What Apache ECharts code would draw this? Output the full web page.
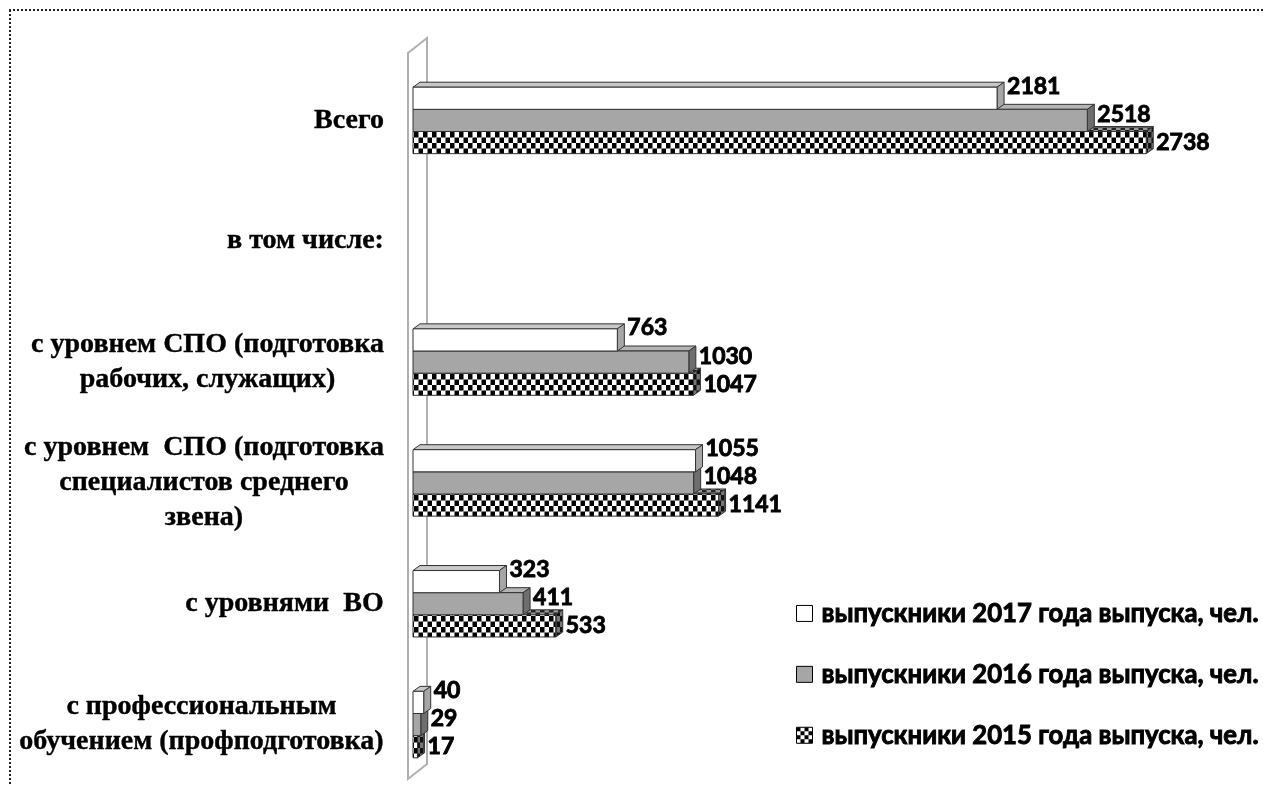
<!DOCTYPE html>
<html>
<head>
<meta charset="utf-8">
<script src="https://cdn.jsdelivr.net/npm/echarts@6/dist/echarts.min.js"></script>
<style>
  html, body { margin: 0; padding: 0; background: #fff; }
  #chart { width: 1263px; height: 785px; }
</style>
</head>
<body>
<div id="chart"></div>
<script>
// данные диаграммы
var categories = [
  "Всего",
  "в том числе:",
  "с уровнем СПО (подготовка\nрабочих, служащих)",
  "с уровнем  СПО (подготовка\nспециалистов среднего\nзвена)",
  "с уровнями  ВО",
  "с профессиональным\nобучением (профподготовка)"
];
var seriesNames = [
  "выпускники 2017 года выпуска, чел.",
  "выпускники 2016 года выпуска, чел.",
  "выпускники 2015 года выпуска, чел."
];
var grads2017 = [2181, null, 763, 1055, 323, 40];
var grads2016 = [2518, null, 1030, 1048, 411, 29];
var grads2015 = [2738, null, 1047, 1141, 533, 17];

// оформление
var DX = 7, DY = -5;          // глубина 3D
var BAR_RATIO = 0.55 / 3;     // высота одного бара от ширины категории
var EDGE = "#333";
var CAT_SIZE = 28;
var CAT_FONT = "bold " + CAT_SIZE + 'px "Liberation Serif"';
var VALUE_FONT = "bold 23px Lato";

function checker(dark, light, cw, ch) {
  var c = document.createElement("canvas");
  c.width = cw * 2; c.height = ch * 2;
  var g = c.getContext("2d");
  g.fillStyle = light; g.fillRect(0, 0, cw * 2, ch * 2);
  g.fillStyle = dark;
  g.fillRect(0, 0, cw, ch);
  g.fillRect(cw, ch, cw, ch);
  return { image: c, repeat: "repeat" };
}

var faces = [
  { front: "#ffffff", top: "#c8c8c8", side: "#a6a6a6" },
  { front: "#a6a6a6", top: "#b4b4b4", side: "#6e6e6e" },
  { front: checker("#000", "#fff", 4.5, 5.5), top: checker("#222", "#9a9a9a", 4.5, 2.5), side: checker("#111", "#777", 3.5, 5.5) }
];
var legendChecker = checker("#000", "#fff", 4, 4);
var labelShift = [-12, -6, 0];

// ширина блока подписи категории (для центрирования строк)
var measureCtx = document.createElement("canvas").getContext("2d");
measureCtx.font = CAT_FONT;
var rich = {};
categories.forEach(function (c, i) {
  var w = 0;
  c.split("\n").forEach(function (l) { w = Math.max(w, measureCtx.measureText(l).width); });
  rich["c" + i] = {
    width: Math.ceil(w) + 2,
    align: "center",
    fontFamily: "Liberation Serif",
    fontWeight: "bold",
    fontSize: CAT_SIZE,
    lineHeight: 35,
    color: "#000",
    textBorderColor: "#000",
    textBorderWidth: 0.4
  };
});

function barSeries(name, values, slot) {
  return {
    type: "custom",
    name: name,
    encode: { x: 0, y: 1 },
    data: values.map(function (v, i) { return [v, i]; }).filter(function (d) { return d[0] != null; }),
    renderItem: function (params, api) {
      var v = api.value(0);
      var cat = api.value(1);
      var base = api.coord([0, cat]);
      var end = api.coord([v, cat]);
      var barH = api.size([0, 1])[1] * BAR_RATIO;
      var x0 = base[0], x1 = end[0];
      var y0 = base[1] - 1.5 * barH + slot * barH;
      var f = faces[slot];
      return {
        type: "group",
        children: [
          {
            type: "polygon",
            shape: { points: [[x0, y0], [x0 + DX, y0 + DY], [x1 + DX, y0 + DY], [x1, y0]] },
            style: { fill: f.top, stroke: EDGE, lineWidth: 1 }
          },
          {
            type: "polygon",
            shape: { points: [[x1, y0], [x1 + DX, y0 + DY], [x1 + DX, y0 + barH + DY], [x1, y0 + barH]] },
            style: { fill: f.side, stroke: EDGE, lineWidth: 1 }
          },
          {
            type: "rect",
            shape: { x: x0, y: y0, width: x1 - x0, height: barH },
            style: { fill: f.front, stroke: EDGE, lineWidth: 1 }
          },
          {
            type: "text",
            style: {
              text: String(v),
              x: x1 + DX + 3,
              y: y0 + barH / 2 + labelShift[slot],
              font: VALUE_FONT,
              fill: "#000",
              stroke: "#000",
              lineWidth: 0.9,
              verticalAlign: "middle"
            }
          }
        ]
      };
    }
  };
}

var myChart = echarts.init(document.getElementById("chart"));
var option = {
  animation: false,
  grid: { left: 413, top: 60, width: 803.4, height: 734.4 },
  xAxis: {
    type: "value",
    min: 0,
    max: 3000,
    show: false
  },
  yAxis: {
    type: "category",
    data: categories,
    inverse: true,
    axisLine: { show: false },
    axisTick: { show: false },
    splitLine: { show: false },
    axisLabel: {
      margin: 28,
      align: "right",
      formatter: function (value) {
        var i = categories.indexOf(value);
        return value.split("\n").map(function (l) { return "{c" + i + "|" + l + "}"; }).join("\n");
      },
      rich: rich
    }
  },
  legend: {
    orient: "vertical",
    left: 791,
    top: 595,
    itemWidth: 16,
    itemHeight: 16,
    itemGap: 34,
    selectedMode: false,
    textStyle: {
      fontFamily: "Lato",
      fontWeight: "bold",
      fontSize: 25.7,
      color: "#000",
      textBorderColor: "#000",
      textBorderWidth: 0.9,
      padding: [0, 0, 0, 4]
    },
    data: [
      { name: seriesNames[0], icon: "rect", itemStyle: { color: faces[0].front, borderColor: "#000", borderWidth: 1 } },
      { name: seriesNames[1], icon: "rect", itemStyle: { color: faces[1].front, borderColor: "#000", borderWidth: 1 } },
      { name: seriesNames[2], icon: "rect", itemStyle: { color: legendChecker, borderColor: "#000", borderWidth: 1 } }
    ]
  },
  graphic: [
    { type: "line", shape: { x1: 9, y1: 10, x2: 1263, y2: 10 }, style: { stroke: "#222", lineWidth: 2, lineDash: [2, 2] } },
    { type: "line", shape: { x1: 10, y1: 10, x2: 10, y2: 785 }, style: { stroke: "#222", lineWidth: 2, lineDash: [2, 2] } }
  ],
  series: [
    {
      // боковая стенка (плоскость нуля)
      type: "custom",
      silent: true,
      data: [[0, 0]],
      renderItem: function (params) {
        var cs = params.coordSys;
        var fx = cs.x - 5, bx = cs.x + 14;
        var fTop = cs.y - 7, bTop = cs.y - 22;
        var fBot = cs.y + cs.height - 6, bBot = fBot - 15;
        return {
          type: "polygon",
          shape: { points: [[fx, fTop], [bx, bTop], [bx, bBot], [fx, fBot]] },
          style: { fill: "#fff", stroke: "#b0b0b0", lineWidth: 2 }
        };
      }
    },
    barSeries(seriesNames[2], grads2015, 2),
    barSeries(seriesNames[1], grads2016, 1),
    barSeries(seriesNames[0], grads2017, 0)
  ]
};
myChart.setOption(option);
</script>
</body>
</html>
